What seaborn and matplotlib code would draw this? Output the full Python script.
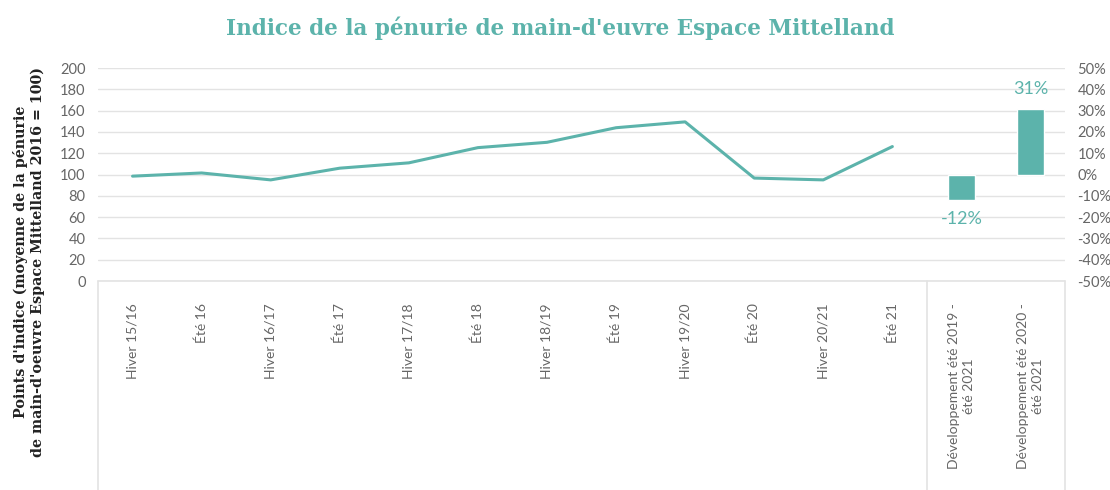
import numpy as np
import pandas as pd
import seaborn as sns
import matplotlib.pyplot as plt
from matplotlib.ticker import FuncFormatter

seasons = ["Hiver 15/16", "Été 16", "Hiver 16/17", "Été 17", "Hiver 17/18", "Été 18",
           "Hiver 18/19", "Été 19", "Hiver 19/20", "Été 20", "Hiver 20/21", "Été 21"]
index_points = [98.5, 101.5, 95, 106, 111, 125.3, 130.3, 144, 149.5, 96.7, 95, 126.3]

dev_labels = ["Développement été 2019 -\nété 2021", "Développement été 2020 -\nété 2021"]
dev_values = [-12, 31]

teal = "#5cb3ab"
grid_col = "#e3e3e3"
tick_col = "#666666"

sns.set_theme(style="white")
plt.rcParams["font.family"] = ["Lato", "DejaVu Sans"]

all_labels = seasons + dev_labels
line_df = pd.DataFrame({"pos": np.arange(len(seasons)), "val": index_points})
bar_df = pd.DataFrame({"cat": dev_labels, "val": dev_values})

fig = plt.figure(figsize=(11.1, 4.9), dpi=100)
ax = fig.add_axes([0.0883, 0.4265, 0.8712, 0.4345])

sns.lineplot(data=line_df, x="pos", y="val", ax=ax, color=teal, linewidth=2.2)

ax2 = ax.twinx()
sns.barplot(data=bar_df, x="cat", y="val", order=all_labels, ax=ax2,
            color=teal, width=0.4, saturation=1)
for cont in ax2.containers:
    ax2.bar_label(cont, fmt="%d%%", padding=8, color=teal, fontsize=13)

ax.set_xlim(-0.5, len(all_labels) - 0.5)
ax.set_ylim(0, 200)
ax.set_yticks(np.arange(0, 201, 20))
ax2.set_ylim(-50, 50)
ax2.set_yticks(np.arange(-50, 51, 10))
ax2.yaxis.set_major_formatter(FuncFormatter(lambda v, p: f"{v:.0f}%"))

ax.set_xticks(np.arange(len(all_labels)))
ax.set_xticklabels(all_labels, rotation=90, va="top", ha="center",
                   multialignment="center", fontsize=10, color=tick_col,
                   linespacing=1.35)

ax.yaxis.grid(True, color=grid_col, linewidth=1)
ax.xaxis.grid(False)
ax2.grid(False)
for a in (ax, ax2):
    for s in a.spines.values():
        s.set_visible(False)
    a.set_xlabel("")
    a.set_ylabel("")
    a.tick_params(axis="y", length=0, pad=9, labelsize=10.5, labelcolor=tick_col)
ax.tick_params(axis="x", length=0, pad=16)

# table-like frame below the chart
ax.axhline(0, color=grid_col, linewidth=1.2, clip_on=False)
for xv in (-0.5, len(seasons) - 0.5, len(all_labels) - 0.5):
    ax.axvline(xv, ymin=-0.99, ymax=0, color=grid_col, linewidth=1.2, clip_on=False)

fig.text(0.505, 0.943, "Indice de la pénurie de main-d'euvre Espace Mittelland",
         ha="center", va="center", fontsize=15.5, fontweight="bold", color=teal,
         family=["DejaVu Serif"])
fig.text(0.026, 0.465,
         "Points d'indice (moyenne de la pénurie\nde main-d'oeuvre Espace Mittelland 2016 = 100)",
         rotation=90, ha="center", va="center", multialignment="center",
         fontsize=10.3, fontweight="bold", color="#222222", family=["DejaVu Serif"])

fig.savefig("out.png", dpi=100)
